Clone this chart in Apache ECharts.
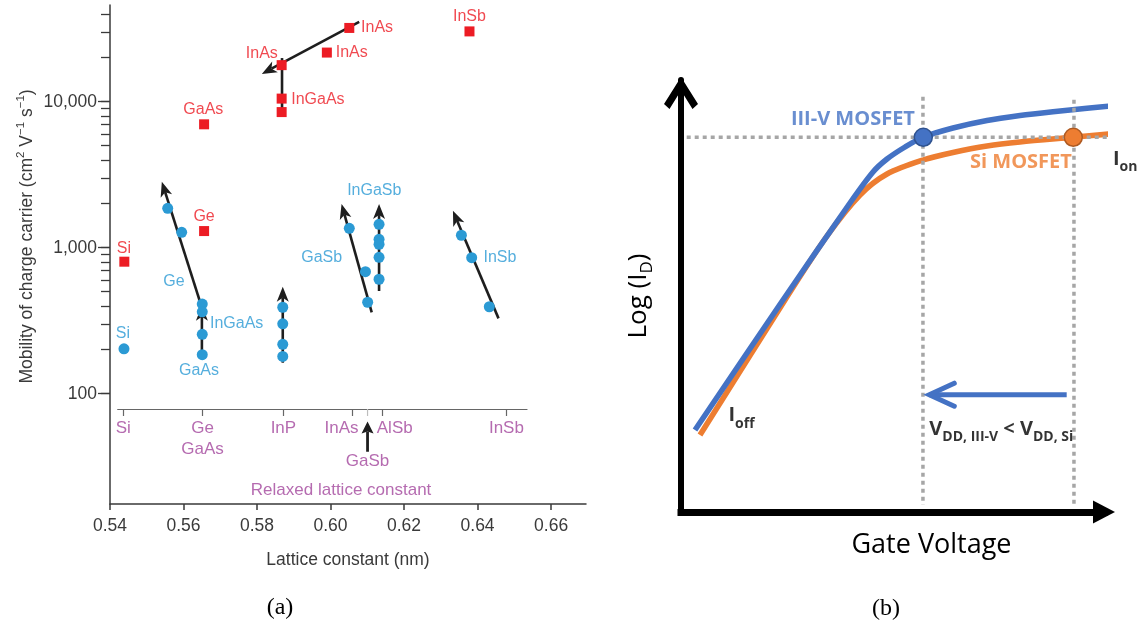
<!DOCTYPE html>
<html><head><meta charset="utf-8">
<script src="https://cdn.jsdelivr.net/npm/echarts@6/dist/echarts.min.js"></script>
<style>html,body{margin:0;padding:0;background:#fff}#c{width:1139px;height:624px}</style>
</head><body><div id="c"></div>
<script>
// ================= Panel (a) data =================
const xTicks = [0.54, 0.56, 0.58, 0.60, 0.62, 0.64, 0.66];
const yLabelTicks = [100, 1000, 10000];
const yMinorTicks = [200,300,400,500,600,700,800,900,2000,3000,4000,5000,6000,7000,8000,9000,20000,30000,40000];

// electron mobility (red squares): [lattice constant nm, mobility]
const electronPts = [[0.5439,802],[0.5656,1300],[0.5656,7000],[0.5867,17800],[0.5867,10500],[0.5867,8490],[0.5990,21700],[0.6051,32000],[0.6378,30300]];
// hole mobility (blue circles)
const holePts = [[0.5438,203],[0.5557,1862],[0.5595,1274],[0.5651,411],[0.5651,364],[0.5651,255],[0.5651,185],
  [0.5870,391],[0.5870,301],[0.5870,218],[0.5870,180],[0.6051,1358],[0.6095,685],[0.6101,423],
  [0.6132,1445],[0.6132,1142],[0.6132,1055],[0.6132,859],[0.6132,608],[0.6356,1217],[0.6384,855],[0.6432,394]];
// strain paths: [x1, y1, x2, y2, arrowhead]
const strainPaths = [[0.6078,35200,0.5813,15500,1],[0.5868,19900,0.5868,8490,0],[0.5645,425,0.5541,2830,1],
  [0.5650,176,0.5650,400,1],[0.5870,163,0.5870,541,1],[0.6112,361,0.6030,1990,1],[0.6132,505,0.6132,1990,1],[0.6457,328,0.6333,1790,1]];
// labels: [text, x, y, anchor]
const electronLabels = [['Si',0.5438,991,'center'],['Ge',0.5656,1622,'center'],['GaAs',0.5654,8770,'center'],['InAs',0.5813,21400,'center'],
  ['InGaAs',0.5893,10290,'left'],['InAs',0.6014,21770,'left'],['InAs',0.6083,31980,'left'],['InSb',0.6378,38200,'center']];
const holeLabels = [['Si',0.5435,259,'center'],['Ge',0.5574,585,'center'],['InGaAs',0.5672,303,'left'],['GaAs',0.5642,143,'center'],
  ['GaSb',0.5976,855,'center'],['InGaSb',0.6119,2455,'center'],['InSb',0.6416,849,'left']];
// relaxed lattice constants
const relaxedNames = ['Si','Ge','GaAs','InP','InAs','GaSb','AlSb','InSb'];
const relaxedConst = [0.5436,0.5652,0.5652,0.5872,0.6060,0.6101,0.6141,0.6479];

// ================= Panel (b) data =================
const iiivCurve = [[0.331,1.898],[2.411,4.907],[3.995,7.153],[4.539,7.870],[4.870,8.171],[5.296,8.449],[5.721,8.674],
  [6.430,8.889],[7.234,9.063],[8.014,9.178],[8.794,9.266],[9.598,9.345],[10.307,9.410]];
const siCurve = [[0.449,1.782],[2.459,4.907],[3.452,6.389],[4.232,7.338],[4.870,7.824],[5.721,8.148],[6.430,8.322],
  [7.234,8.472],[8.014,8.565],[9.267,8.674],[10.307,8.766]];
const onPoints  = [[5.728,8.674],[9.274,8.674]];
const hGuide  = [[0.135,8.674],[10.18,8.674]];
const vGuide1 = [[5.72,9.61],[5.72,0.16]];
const vGuide2 = [[9.29,9.54],[9.29,0.16]];
const vddArrow = [[9.118,2.715,5.870,2.715,1]];

// ================= styles =================
const FA = 'Liberation Sans', FB = 'Open Sans';
const INK = '#3a3a3a', RED = '#ec1c24', BLUE = '#2b9ad4', PURPLE = '#a3469c';
const C3 = '#4472c4', CSI = '#ed7d31', GUIDE = '#a6a6a6';

function arrowRenderer(o) {
  return function (params, api) {
    const p1 = api.coord([api.value(0), api.value(1)]);
    const p2 = api.coord([api.value(2), api.value(3)]);
    const head = api.value(4);
    const dx = p2[0]-p1[0], dy = p2[1]-p1[1];
    const len = Math.hypot(dx, dy) || 1, ux = dx/len, uy = dy/len, nx = -uy, ny = ux;
    const children = [];
    let end = p2;
    if (head && o.kind === 'filled') {
      const bx = p2[0]-ux*o.len, by = p2[1]-uy*o.len, W = o.w/2;
      const notch = [p2[0]-ux*o.notch, p2[1]-uy*o.notch];
      children.push({type:'polygon', shape:{points:[p2,[bx+nx*W,by+ny*W],notch,[bx-nx*W,by-ny*W]]}, style:{fill:o.color}, z2:2});
      end = notch;
    }
    children.unshift({type:'line', shape:{x1:p1[0],y1:p1[1],x2:end[0],y2:end[1]}, style:{stroke:o.color, lineWidth:o.lw, lineCap:'butt'}});
    if (head && o.kind === 'chevron') {
      const bx = p2[0]-ux*o.len, by = p2[1]-uy*o.len, W = o.w/2;
      children.push({type:'polyline', shape:{points:[[bx+nx*W,by+ny*W],p2,[bx-nx*W,by-ny*W]]},
        style:{stroke:o.color, lineWidth:o.lw, fill:'none', lineCap:'round', lineJoin:'miter'}});
    }
    return {type:'group', children};
  };
}

function labelItems(arr) {
  return arr.map(a => ({name:a[0], value:[a[1], a[2]], label:{align:a[3]}}));
}

const relaxedLayout = {Si:[0,1], Ge:[0,1], GaAs:[0,2.1], InP:[0,1], InAs:[-11,1], GaSb:[0,2.74], AlSb:[12.5,1], InSb:[0,1]};
const relaxedItems = relaxedNames.map((n,i) => ({name:n, value:[relaxedConst[i], relaxedLayout[n][1]], label:{offset:[relaxedLayout[n][0],0]}}));
relaxedItems.push({name:'Relaxed lattice constant', value:[0.6029, 4.26]});
const relaxedTicks = relaxedConst.filter((v,i) => relaxedNames[i] !== 'GaSb' && relaxedNames[i] !== 'GaAs');
const gasbIdx = relaxedNames.indexOf('GaSb');
const gasbTick = [[relaxedConst[gasbIdx], 0, relaxedConst[gasbIdx], 0.37, 0]];
const gasbPointer = [[relaxedConst[gasbIdx], 2.25, relaxedConst[gasbIdx], 0.66, 1]];

const bTexts = [
  {value:[5.53,9.09], label:{formatter:'{c3|III-V MOSFET}', align:'right'}},
  {value:[9.24,8.09], label:{formatter:'{si|Si MOSFET}', align:'right'}},
  {value:[10.21,8.17], label:{formatter:'{m|I}{s|on}', align:'left'}},
  {value:[1.12,2.23], label:{formatter:'{m|I}{s|off}', align:'left'}},
  {value:[5.87,1.92], label:{formatter:'{m|V}{s|DD, III-V}{m| < V}{s|DD, Si}', align:'left'}}
];

const chevronPath = 'path://M17,0 L34,27 L28.5,32 L17,13.5 L5.5,32 L0,27 Z';

const option = {
  animation: false,
  backgroundColor: '#fff',
  grid: [
    {left:110, top:5, width:476, height:499, containLabel:false, outerBoundsMode:'none'},
    {left:117.7, top:409, width:409.3, height:95, containLabel:false, outerBoundsMode:'none'},
    {left:681, top:80, width:423, height:432, containLabel:false, outerBoundsMode:'none'}
  ],
  xAxis: [
    {gridIndex:0, type:'value', min:0.54, max:0.6695, position:'bottom',
     axisLine:{show:true, onZero:false, lineStyle:{color:INK, width:1.5}},
     axisTick:{show:true, length:6, customValues:xTicks, lineStyle:{color:INK, width:1.5}},
     axisLabel:{show:true, customValues:xTicks, formatter:v => Number(v).toFixed(2), margin:13, fontSize:17.5, color:INK, fontFamily:FA},
     splitLine:{show:false},
     name:'Lattice constant (nm)', nameLocation:'middle', nameGap:47, nameMoveOverlap:false,
     nameTextStyle:{fontSize:17.5, lineHeight:18, color:INK, fontFamily:FA}},
    {gridIndex:1, type:'value', min:0.5421, max:0.6535, position:'top',
     axisLine:{show:true, onZero:false, lineStyle:{color:'#666', width:1.2}},
     axisTick:{show:true, inside:true, length:7, customValues:relaxedTicks, lineStyle:{color:'#666', width:1.2}},
     axisLabel:{show:false}, splitLine:{show:false}},
    {gridIndex:2, type:'value', min:0, max:10, position:'bottom',
     axisLine:{show:true, onZero:false, symbol:['none','triangle'], symbolSize:[23,22], lineStyle:{color:'#000', width:7, cap:'square'}},
     axisTick:{show:false}, axisLabel:{show:false}, splitLine:{show:false},
     name:'Gate Voltage', nameLocation:'middle', nameGap:16, nameMoveOverlap:false,
     nameTextStyle:{fontSize:27, lineHeight:34, color:'#000', fontFamily:FB, padding:[0,0,0,78]}}
  ],
  yAxis: [
    {gridIndex:0, type:'log', logBase:10, min:17.56, max:45950, position:'left',
     axisLine:{show:true, onZero:false, lineStyle:{color:INK, width:1.5}},
     axisTick:{show:true, length:9, customValues:yMinorTicks.concat(yLabelTicks), lineStyle:{color:INK, width:1.3}},
     axisLabel:{show:true, customValues:yLabelTicks, formatter:v => Math.round(v).toLocaleString('en-US'), margin:13, fontSize:17.5, color:INK, fontFamily:FA},
     splitLine:{show:false}, minorTick:{show:false},
     name:'{a|Mobility of charge carrier (cm}{p|2}{a| V}{p|−1}{a| s}{p|−1}{a|)}', nameLocation:'middle', nameGap:71, nameMoveOverlap:false,
     nameTextStyle:{color:INK, fontFamily:FA, fontSize:17.5, padding:[0,0,0,36],
       rich:{a:{fontSize:17.5, lineHeight:24, color:INK, fontFamily:FA}, p:{fontSize:11.5, lineHeight:12, verticalAlign:'top', color:INK, fontFamily:FA}}}},
    {gridIndex:0, type:'log', logBase:10, min:17.56, max:45950, position:'left',
     axisLine:{show:false}, axisTick:{show:true, length:12, customValues:yLabelTicks, lineStyle:{color:INK, width:1.3}},
     axisLabel:{show:false}, splitLine:{show:false}},
    {gridIndex:1, type:'value', min:0, max:5, inverse:true, show:false},
    {gridIndex:2, type:'value', min:0, max:10, position:'left',
     axisLine:{show:true, onZero:false, symbol:['none', chevronPath], symbolSize:[34,32], symbolOffset:[0,-13], lineStyle:{color:'#000', width:6}},
     axisTick:{show:false}, axisLabel:{show:false}, splitLine:{show:false},
     name:'{m|Log (I}{s|D}{m|)}', nameLocation:'middle', nameGap:25, nameMoveOverlap:false,
     nameTextStyle:{color:'#000', fontFamily:FB, fontSize:26,
       rich:{m:{fontSize:26, lineHeight:34, color:'#000', fontFamily:FB}, s:{fontSize:17, lineHeight:17, verticalAlign:'bottom', color:'#000', fontFamily:FB}}}}
  ],
  graphic: [
    {type:'text', x:280, y:608, style:{text:'(a)', font:'24px "Liberation Serif"', fill:'#000', textAlign:'center', textVerticalAlign:'middle'}},
    {type:'text', x:886, y:609, style:{text:'(b)', font:'24px "Liberation Serif"', fill:'#000', textAlign:'center', textVerticalAlign:'middle'}}
  ],
  series: [
    // ---------- panel (a) ----------
    {type:'custom', xAxisIndex:0, yAxisIndex:0, data:strainPaths, encode:{x:[0,2], y:[1,3]}, z:2, silent:true,
     renderItem: arrowRenderer({kind:'filled', color:'#1e1e1e', lw:2.6, len:15, w:12, notch:11})},
    {type:'scatter', xAxisIndex:0, yAxisIndex:0, data:electronPts, symbol:'rect', symbolSize:10, itemStyle:{color:RED, opacity:1}, z:3, silent:true},
    {type:'scatter', xAxisIndex:0, yAxisIndex:0, data:holePts, symbol:'circle', symbolSize:11, itemStyle:{color:BLUE, opacity:1}, z:3, silent:true},
    {type:'scatter', xAxisIndex:0, yAxisIndex:0, data:labelItems(electronLabels), symbolSize:0.1, itemStyle:{color:'transparent'}, z:4, silent:true,
     label:{show:true, position:'inside', formatter:'{b}', color:RED, fontSize:16, fontFamily:FA, textBorderWidth:0, verticalAlign:'middle'}},
    {type:'scatter', xAxisIndex:0, yAxisIndex:0, data:labelItems(holeLabels), symbolSize:0.1, itemStyle:{color:'transparent'}, z:4, silent:true,
     label:{show:true, position:'inside', formatter:'{b}', color:BLUE, fontSize:16, fontFamily:FA, textBorderWidth:0, verticalAlign:'middle'}},
    {type:'custom', xAxisIndex:1, yAxisIndex:2, data:gasbTick, encode:{x:[0,2], y:[1,3]}, z:2, silent:true,
     renderItem: arrowRenderer({kind:'filled', color:'#bdbdbd', lw:1.2, len:0, w:0, notch:0})},
    {type:'custom', xAxisIndex:1, yAxisIndex:2, data:gasbPointer, encode:{x:[0,2], y:[1,3]}, z:2, silent:true,
     renderItem: arrowRenderer({kind:'filled', color:'#1e1e1e', lw:2.8, len:12, w:12, notch:10})},
    {type:'scatter', xAxisIndex:1, yAxisIndex:2, data:relaxedItems, symbolSize:0.1, itemStyle:{color:'transparent'}, z:4, silent:true,
     label:{show:true, position:'inside', formatter:'{b}', color:PURPLE, fontSize:17, fontFamily:FA, textBorderWidth:0, verticalAlign:'middle'}},
    // ---------- panel (b) ----------
    {type:'line', xAxisIndex:2, yAxisIndex:3, data:hGuide, showSymbol:false, clip:false, z:3, silent:true, lineStyle:{color:GUIDE, width:3.5, type:[4,4]}},
    {type:'line', xAxisIndex:2, yAxisIndex:3, data:vGuide1, showSymbol:false, clip:false, z:3, silent:true, lineStyle:{color:GUIDE, width:3.5, type:[4,4]}},
    {type:'line', xAxisIndex:2, yAxisIndex:3, data:vGuide2, showSymbol:false, clip:false, z:3, silent:true, lineStyle:{color:GUIDE, width:3.5, type:[4,4]}},
    {type:'line', xAxisIndex:2, yAxisIndex:3, data:siCurve, showSymbol:false, smooth:0.3, clip:false, z:2, silent:true, lineStyle:{color:CSI, width:5.5}},
    {type:'line', xAxisIndex:2, yAxisIndex:3, data:iiivCurve, showSymbol:false, smooth:0.3, clip:false, z:2, silent:true, lineStyle:{color:C3, width:5.5}},
    {type:'scatter', xAxisIndex:2, yAxisIndex:3, data:[{value:onPoints[0], itemStyle:{color:C3, borderColor:'#2f528f'}}, {value:onPoints[1], itemStyle:{color:CSI, borderColor:'#ae5a21'}}],
     symbolSize:18, itemStyle:{borderWidth:1.5, opacity:1}, z:5, silent:true, clip:false},
    {type:'custom', xAxisIndex:2, yAxisIndex:3, data:vddArrow, encode:{x:[0,2], y:[1,3]}, z:5, silent:true, clip:false,
     renderItem: arrowRenderer({kind:'chevron', color:C3, lw:5, len:25, w:23})},
    {type:'scatter', xAxisIndex:2, yAxisIndex:3, data:bTexts, symbolSize:0.1, itemStyle:{color:'transparent'}, z:6, silent:true, clip:false,
     label:{show:true, position:'inside', verticalAlign:'middle', textBorderWidth:0, color:'#000', fontFamily:FB,
       rich:{
         c3:{color:C3, fontSize:20, fontWeight:'bold', fontFamily:FB},
         si:{color:CSI, fontSize:20, fontWeight:'bold', fontFamily:FB},
         m:{color:'#000', fontSize:20, fontWeight:'bold', fontFamily:FB, lineHeight:30},
         s:{color:'#000', fontSize:14, fontWeight:'bold', fontFamily:FB, lineHeight:14, verticalAlign:'bottom'}
       }}}
  ]
};
const chart = echarts.init(document.getElementById('c'), null, {renderer:'canvas', width:1139, height:624});
chart.setOption(option);
</script></body></html>
